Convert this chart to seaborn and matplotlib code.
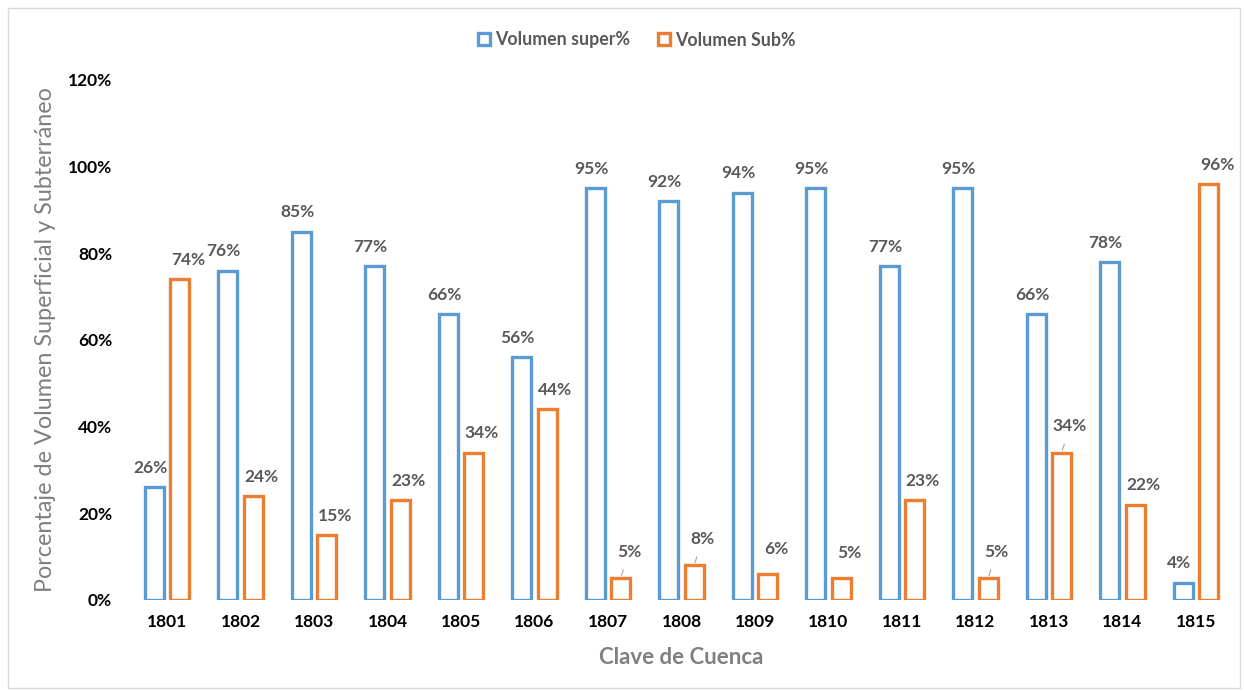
import matplotlib
matplotlib.use("Agg")
import matplotlib.pyplot as plt
import seaborn as sns
import pandas as pd
from matplotlib.patches import Patch, Rectangle
from matplotlib.ticker import FuncFormatter

# Data
cuencas = ["1801", "1802", "1803", "1804", "1805", "1806", "1807", "1808",
           "1809", "1810", "1811", "1812", "1813", "1814", "1815"]
vol_super = [26, 76, 85, 77, 66, 56, 95, 92, 94, 95, 77, 95, 66, 78, 4]
vol_sub = [74, 24, 15, 23, 34, 44, 5, 8, 6, 5, 23, 5, 34, 22, 96]
series_names = ["Volumen super%", "Volumen Sub%"]

colors = ["#5B9BD5", "#ED7D31"]
label_gray = "#595959"
title_gray = "#7F7F7F"
FONT = ["Lato", "DejaVu Sans"]

df = pd.DataFrame({
    "cuenca": cuencas * 2,
    "valor": vol_super + vol_sub,
    "serie": [series_names[0]] * len(cuencas) + [series_names[1]] * len(cuencas),
})

sns.set_theme(style="white")
plt.rcParams["font.family"] = FONT

W, H = 1244, 691
fig = plt.figure(figsize=(W / 100, H / 100), dpi=100)
ax_left, ax_right, ax_top, ax_bottom = 130.25, 1232.75, 80, 600
ax = fig.add_axes([ax_left / W, 1 - ax_bottom / H,
                   (ax_right - ax_left) / W, (ax_bottom - ax_top) / H])

sns.barplot(data=df, x="cuenca", y="valor", hue="serie", order=cuencas,
            hue_order=series_names, palette=colors, fill=False,
            width=0.688, gap=0.25, linewidth=2.4, legend=False, ax=ax,
            errorbar=None)

ax.set_xlim(-0.5, len(cuencas) - 0.5)
ax.set_ylim(0, 120)
ax.set_yticks(range(0, 121, 20))
ax.yaxis.set_major_formatter(FuncFormatter(lambda v, p: f"{v:.0f}%"))
ax.tick_params(axis="y", length=0, pad=13, labelsize=12.5, labelcolor="black")
ax.tick_params(axis="x", length=0, pad=10, labelsize=12.5, labelcolor="black")
for t in ax.get_xticklabels() + ax.get_yticklabels():
    t.set_fontweight("bold")
for s in ax.spines.values():
    s.set_visible(False)
ax.grid(False)

ax.set_xlabel("Clave de Cuenca", fontsize=16, fontweight="bold",
              color=title_gray)
ax.xaxis.set_label_coords(0.5, -(647 - ax_bottom) / (ax_bottom - ax_top))
ax.set_ylabel("Porcentaje de Volumen Superficial y Subterráneo", fontsize=16.8,
              fontweight="normal", color=title_gray)
ax.yaxis.set_label_coords(-(ax_left - 46) / (ax_right - ax_left), 0.5)
ax.yaxis.label.set_va("center")

# Data labels (offsets in points; leader lines for labels lifted off their bars)
leader_bars = {(1, 6), (1, 7), (1, 11), (1, 12)}
for s_idx, values in enumerate([vol_super, vol_sub]):
    container = ax.containers[s_idx]
    for c_idx, (bar, v) in enumerate(zip(container.patches, values)):
        xc = bar.get_x() + bar.get_width() / 2
        dx = -3 if s_idx == 0 else 6
        dy = 14
        arrow = None
        if (s_idx, c_idx) in leader_bars:
            dy = 19
            arrow = dict(arrowstyle="-", color="#A6A6A6", lw=0.8,
                         shrinkA=5, shrinkB=2)
        elif s_idx == 1 and v < 10:
            dy = 18
        ax.annotate(f"{v}%", xy=(xc, v), xytext=(dx, dy),
                    textcoords="offset points", ha="center", va="center",
                    fontsize=12.5, fontweight="bold", color=label_gray,
                    arrowprops=arrow)

handles = [Patch(facecolor="white", edgecolor=c, linewidth=2.4) for c in colors]
leg = fig.legend(handles, series_names, loc="center", bbox_to_anchor=(0.512, 1 - 40 / H),
                 ncol=2, frameon=False, handlelength=0.65, handleheight=0.65,
                 handletextpad=0.3, columnspacing=1.6,
                 prop={"family": FONT, "weight": "bold", "size": 12.8})
for t in leg.get_texts():
    t.set_color(label_gray)

# Outer chart frame
fig.patches.append(Rectangle((8 / W, 3 / H), 1232 / W, 680 / H,
                             transform=fig.transFigure, fill=False,
                             edgecolor="#D9D9D9", linewidth=1.0))

fig.savefig("out.png", dpi=100, facecolor="white")
